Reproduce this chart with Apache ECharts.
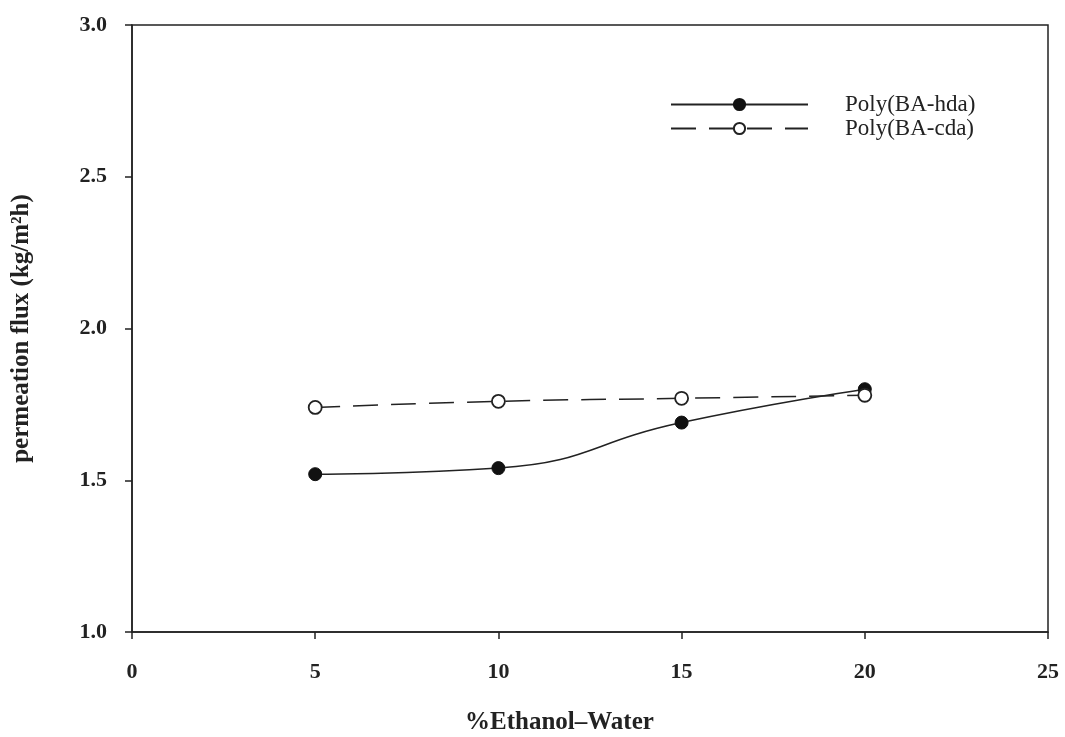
<!DOCTYPE html>
<html>
<head>
<meta charset="utf-8">
<script src="https://cdn.jsdelivr.net/npm/echarts@6/dist/echarts.min.js"></script>
<style>html,body{margin:0;padding:0;background:#fff;}#c{width:1065px;height:737px;}</style>
</head>
<body>
<div id="c"></div>
<script>
const xValues = [5, 10, 15, 20];
const hdaValues = [1.52, 1.54, 1.69, 1.80];
const cdaValues = [1.74, 1.76, 1.77, 1.78];
const seriesNames = ['Poly(BA-hda)', 'Poly(BA-cda)'];
const xTitle = '%Ethanol\u2013Water';
const yTitle = 'permeation flux (kg/m\u00B2h)';

const serif = '"Liberation Serif", "DejaVu Serif", serif';
const chart = echarts.init(document.getElementById('c'));
chart.setOption({
  animation: false,
  backgroundColor: '#fff',
  grid: { left: 132, right: 17, top: 25, bottom: 105, show: true, borderColor: '#222', borderWidth: 1.5, backgroundColor: 'transparent' },
  legend: {
    left: 665, top: 88, orient: 'vertical', itemWidth: 137, itemHeight: 14, itemGap: 1,
    textStyle: { fontFamily: serif, fontSize: 23, color: '#222', padding: [0, 0, 0, 32], lineHeight: 23 },
    data: seriesNames
  },
  xAxis: {
    type: 'value', min: 0, max: 25, interval: 5,
    axisLine: { onZero: false, lineStyle: { color: '#222', width: 1.5 } },
    axisTick: { show: true, inside: false, length: 7, lineStyle: { color: '#222', width: 1.5 } },
    splitLine: { show: false },
    axisLabel: { margin: 29, fontFamily: serif, fontWeight: 'bold', fontSize: 22, color: '#222' }
  },
  yAxis: {
    type: 'value', min: 1.0, max: 3.0, interval: 0.5,
    name: yTitle, nameLocation: 'middle', nameGap: 98,
    nameTextStyle: { fontFamily: serif, fontWeight: 'bold', fontSize: 25, color: '#222' },
    axisLine: { show: true, lineStyle: { color: '#222', width: 1.5 } },
    axisTick: { show: true, inside: false, length: 7, lineStyle: { color: '#222', width: 1.5 } },
    splitLine: { show: false },
    axisLabel: { margin: 25, fontFamily: serif, fontWeight: 'bold', fontSize: 22, color: '#222',
      formatter: v => v.toFixed(1) }
  },
  graphic: [{
    type: 'text', left: 465, top: 710,
    style: { text: xTitle, font: 'bold 25px ' + serif, fill: '#222' }
  }],
  series: [
    {
      name: seriesNames[0], type: 'line', smooth: true,
      data: xValues.map((x, i) => [x, hdaValues[i]]),
      symbol: 'circle', symbolSize: 13,
      itemStyle: { color: '#111', borderColor: '#111', borderWidth: 1 },
      lineStyle: { color: '#222', width: 1.5, type: 'solid' }
    },
    {
      name: seriesNames[1], type: 'line', smooth: true,
      data: xValues.map((x, i) => [x, cdaValues[i]]),
      symbol: 'circle', symbolSize: 13,
      itemStyle: { color: '#fff', borderColor: '#222', borderWidth: 1.8 },
      lineStyle: { color: '#222', width: 1.5, type: [25, 13] }
    }
  ]
});
</script>
</body>
</html>
